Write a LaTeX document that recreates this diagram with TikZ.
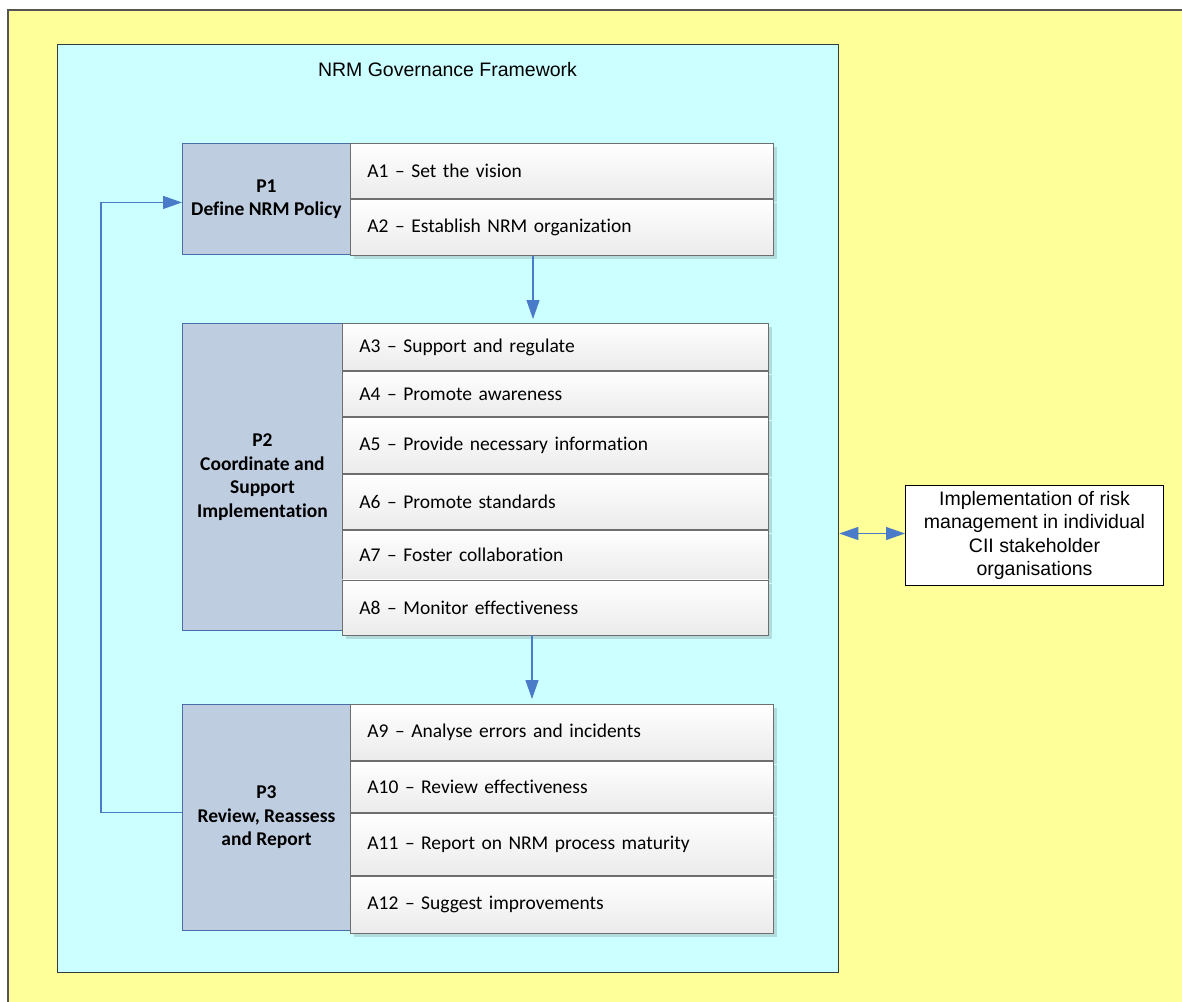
\documentclass[tikz,border=0pt]{standalone}
\usepackage{fontspec}
\setmainfont{Carlito}[Ligatures=NoCommon]
\newfontfamily\arialfont{Liberation Sans}
\usetikzlibrary{shadows,arrows.meta}
\definecolor{bgyellow}{HTML}{FFFF99}
\definecolor{framecyan}{HTML}{CCFFFF}
\definecolor{pfill}{HTML}{BFCDE1}
\definecolor{pline}{HTML}{4A6DA8}
\definecolor{aline}{HTML}{6E6E6E}
\definecolor{abot}{HTML}{EBEBEB}
\definecolor{arrowblue}{HTML}{4A7BC8}
\definecolor{shadowc}{HTML}{B2DCDC}
\begin{document}
\begin{tikzpicture}[x=1pt,y=-1pt,
  pbox/.style={draw=pline, line width=0.9pt, fill=pfill, anchor=north west, align=center,
    font=\bfseries\fontsize{19.5}{23.5}\selectfont, inner sep=2pt},
  abox/.style={draw=aline, line width=0.9pt, top color=white, bottom color=abot,
    anchor=north west, align=left, text width=#1,
    font=\fontsize{19.5}{23.5}\selectfont, inner xsep=17pt, inner ysep=0pt,
    drop shadow={shadow xshift=4pt, shadow yshift=-4pt, fill=shadowc, opacity=1}},
  flow/.style={draw=arrowblue, line width=1.1pt, -{Triangle[length=19pt,width=13pt]}},
  dflow/.style={draw=arrowblue, line width=1.1pt, {Triangle[length=19pt,width=13pt]}-{Triangle[length=19pt,width=13pt]}},
]
\clip (0,0) rectangle (1182,1001);
\fill[white] (0,0) rectangle (1182,1001);
% background
\draw[fill=bgyellow, draw={rgb,255:red,85;green,85;blue,85}, line width=1.3pt] (8,10) rectangle (1220,1040);
% framework frame
\node[draw={rgb,255:red,50;green,60;blue,60}, line width=1.3pt, fill=framecyan, minimum width=781, minimum height=928, anchor=north west, inner sep=0pt] (frame) at (57,44) {};
\node[font=\arialfont\fontsize{19.5}{23.5}\selectfont] (title) at (447.5,70) {NRM Governance Framework};

% P1
\node[pbox, minimum width=168, minimum height=111] (p1) at (182,143) {P1\\Define NRM Policy};
\node[abox=389pt, minimum height=55] (a1) at (350,143) {A1 – Set the vision};
\node[abox=389pt, minimum height=56] (a2) at (a1.south west) {A2 – Establish NRM organization};

% P2
\node[pbox, minimum width=160, minimum height=307] (p2) at (182,323) {P2\\Coordinate and\\Support\\Implementation};
\node[abox=392pt, minimum height=47] (a3) at (342,323) {A3 – Support and regulate};
\node[abox=392pt, minimum height=45] (a4) at (a3.south west) {A4 – Promote awareness};
\node[abox=392pt, minimum height=56] (a5) at (a4.south west) {A5 – Provide necessary information};
\node[abox=392pt, minimum height=55] (a6) at (a5.south west) {A6 – Promote standards};
\node[abox=392pt, minimum height=49] (a7) at (a6.south west) {A7 – Foster collaboration};
\node[abox=392pt, minimum height=55] (a8) at (a7.south west) {A8 – Monitor effectiveness};

% P3
\node[pbox, minimum width=168, minimum height=226] (p3) at (182,704) {P3\\Review, Reassess\\and Report};
\node[abox=389pt, minimum height=56] (a9) at (350,704) {A9 – Analyse errors and incidents};
\node[abox=389pt, minimum height=51] (a10) at (a9.south west) {A10 – Review effectiveness};
\node[abox=389pt, minimum height=62] (a11) at (a10.south west) {A11 – Report on NRM process maturity};
\node[abox=389pt, minimum height=57] (a12) at (a11.south west) {A12 – Suggest improvements};

% external box
\node[draw=black, line width=1pt, fill=white, minimum width=258, minimum height=100, inner sep=0pt,
  align=center, font=\arialfont\fontsize{19.5}{23.2}\selectfont, anchor=north west] (impl) at (905,485)
  {Implementation of risk\\management in individual\\CII stakeholder\\organisations};

% connectors
\draw[flow, shorten >=4pt] ([xshift=183pt]a2.south west) -- ([xshift=191pt]a3.north west);
\draw[flow, shorten >=5pt] ([xshift=190pt]a8.south west) -- ([xshift=182pt]a9.north west);
\draw[flow] ([yshift=5pt]p3.west) -- ++(-81,0) |- ([yshift=-3.5pt]p1.west);
\draw[dflow] ([yshift=2pt]frame.east |- impl.west) -- ([yshift=2pt]impl.west);
\end{tikzpicture}
\end{document}
